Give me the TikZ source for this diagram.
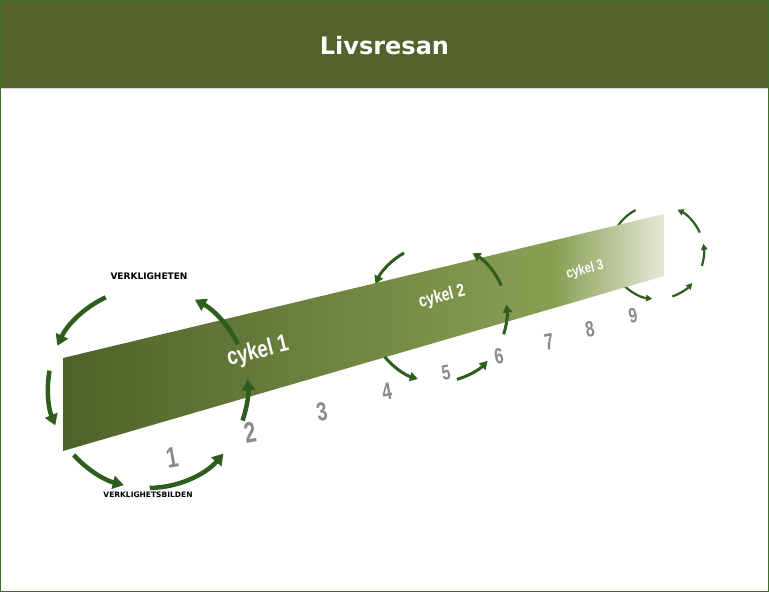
\documentclass[tikz,border=0pt]{standalone}
\usepackage{fontspec}
\setmainfont{Liberation Sans}
\newfontfamily\dejavu{DejaVu Sans}
\usetikzlibrary{arrows.meta}
\definecolor{hdr}{RGB}{82,98,42}
\definecolor{framec}{RGB}{66,108,46}
\definecolor{arr}{RGB}{46,94,30}
\definecolor{numgray}{RGB}{138,138,142}
\definecolor{bandA}{RGB}{78,98,40}
\definecolor{bandB}{RGB}{137,160,84}
\definecolor{bandC}{RGB}{229,233,214}
\pgfdeclarehorizontalshading{bandshade}{100bp}{color(0bp)=(bandA); color(25bp)=(bandA); color(66bp)=(bandB); color(75bp)=(bandC); color(100bp)=(bandC)}
\begin{document}
\begin{tikzpicture}[x=1pt,y=-1pt,
  cycA/.style={arr, line width=4.5pt, -{Triangle[length=11pt,width=13pt]}},
  cycB/.style={arr, line width=3pt, -{Triangle[length=8pt,width=9pt]}},
  cycC/.style={arr, line width=2.2pt, -{Triangle[length=6pt,width=6.5pt]}},
  cycCplain/.style={arr, line width=2.2pt},
  numtxt/.style={text=numgray, inner sep=0pt, rotate=10, xscale=0.72, font=\bfseries\fontsize{#1}{#1}\selectfont},
  cyktxt/.style={text=white, inner sep=0pt, rotate=14, xscale=0.78, font=\bfseries\fontsize{#1}{#1}\selectfont},
  labtxt/.style={text=black, inner sep=0pt, font=\dejavu\bfseries\fontsize{#1}{#1}\selectfont}
]
\useasboundingbox (0,0) rectangle (769,592);
\fill[white] (0,0) rectangle (769,592);
\fill[hdr] (0,0) rectangle (769,88);
\draw[white!75!hdr, line width=0.8pt] (0,88.6) -- (769,88.6);
\draw[framec, line width=1.4pt] (0.7,0.7) rectangle (768.3,591.3);
\node[text=white, inner sep=0pt, font=\dejavu\bfseries\fontsize{24}{25}\selectfont] (title) at (384.5,46) {Livsresan};

\coordinate (C1) at (148,388);
\coordinate (C2) at (438,313);
\coordinate (C3) at (657,252);

% cycle 3 arcs behind the band
\draw[cycCplain] (C3) ++(243:47) arc[start angle=243, end angle=210, radius=47];
\draw[cycC] (C3) ++(138:47) arc[start angle=138, end angle=96, radius=47];

% band
\shade[shading=bandshade] (63,358) -- (664,214) -- (664,276) -- (63,451) -- cycle;

% cycle 1
\draw[cycA] (C1) ++(245:100) arc[start angle=245, end angle=205, radius=100];
\draw[cycA] (C1) ++(190:100) arc[start angle=190, end angle=158, radius=100];
\draw[cycA] (C1) ++(138:100) arc[start angle=138, end angle=104, radius=100];
\draw[cycA] (C1) ++(89:100) arc[start angle=89, end angle=41, radius=100];
\draw[cycA] (C1) ++(19:100) arc[start angle=19, end angle=-5, radius=100];
\draw[cycA] (C1) ++(-26:100) arc[start angle=-26, end angle=-62, radius=100];

% cycle 2
\draw[cycB] (C2) ++(240.5:69) arc[start angle=240.5, end angle=205, radius=69];
\draw[cycB] (C2) ++(140.5:69) arc[start angle=140.5, end angle=107, radius=69];
\draw[cycB] (C2) ++(74:69) arc[start angle=74, end angle=44, radius=69];
\draw[cycB] (C2) ++(18:69) arc[start angle=18, end angle=-7, radius=69];
\draw[cycB] (C2) ++(-23.4:69) arc[start angle=-23.4, end angle=-60, radius=69];

% cycle 3 right side
\draw[cycC] (C3) ++(71:47) arc[start angle=71, end angle=41.4, radius=47];
\draw[cycC] (C3) ++(17:47) arc[start angle=17, end angle=-10, radius=47];
\draw[cycC] (C3) ++(-24.4:47) arc[start angle=-24.4, end angle=-64, radius=47];

% labels
\node[labtxt=9] (verk) at (149,276) {VERKLIGHETEN};
\node[labtxt=7.5] (verkb) at (148,495) {VERKLIGHETSBILDEN};

% cycle names
\node[cyktxt=24] (cyk1) at (258,352) {cykel 1};
\node[cyktxt=18] (cyk2) at (442,297) {cykel 2};
\node[cyktxt=14.5] (cyk3) at (585,270) {cykel 3};

% numbers
\node[numtxt=29] (n1) at (172,458) {1};
\node[numtxt=29] (n2) at (250,433) {2};
\node[numtxt=26] (n3) at (322,412) {3};
\node[numtxt=24] (n4) at (387,392) {4};
\node[numtxt=21] (n5) at (446,373) {5};
\node[numtxt=22] (n6) at (499,356) {6};
\node[numtxt=23] (n7) at (549,342) {7};
\node[numtxt=22] (n8) at (590,329) {8};
\node[numtxt=21] (n9) at (633,316) {9};
\end{tikzpicture}
\end{document}
